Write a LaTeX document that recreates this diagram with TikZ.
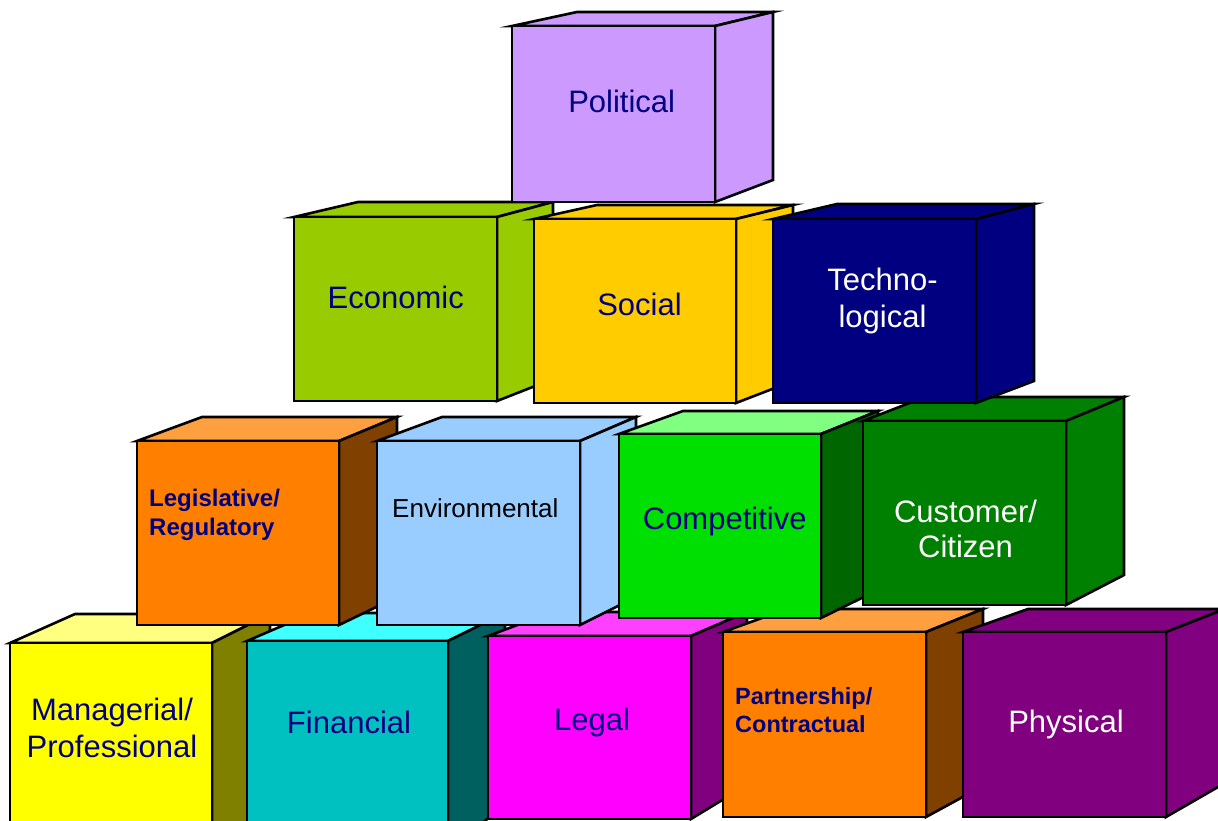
\documentclass[tikz,border=0pt]{standalone}
\usepackage{fontspec}
\setmainfont{Liberation Sans}
\definecolor{navyt}{HTML}{000080}
% political
\definecolor{polF}{HTML}{CC99FF}\definecolor{polT}{HTML}{CC99FF}\definecolor{polS}{HTML}{CC99FF}
% economic
\definecolor{ecoF}{HTML}{99CC00}\definecolor{ecoT}{HTML}{99CC00}\definecolor{ecoS}{HTML}{99CC00}
% social
\definecolor{socF}{HTML}{FFCC00}\definecolor{socT}{HTML}{FFCC00}\definecolor{socS}{HTML}{FFCC00}
% technological
\definecolor{tecF}{HTML}{000080}\definecolor{tecT}{HTML}{000080}\definecolor{tecS}{HTML}{000080}
% legislative
\definecolor{legF}{HTML}{FF8000}\definecolor{legT}{HTML}{FFA040}\definecolor{legS}{HTML}{804000}
% environmental
\definecolor{envF}{HTML}{99CCFF}\definecolor{envT}{HTML}{99CCFF}\definecolor{envS}{HTML}{99CCFF}
% competitive
\definecolor{comF}{HTML}{00E000}\definecolor{comT}{HTML}{80FF80}\definecolor{comS}{HTML}{006600}
% customer
\definecolor{cusF}{HTML}{008000}\definecolor{cusT}{HTML}{008000}\definecolor{cusS}{HTML}{008000}
% managerial
\definecolor{manF}{HTML}{FFFF00}\definecolor{manT}{HTML}{FFFF80}\definecolor{manS}{HTML}{808000}
% financial
\definecolor{finF}{HTML}{00C0C0}\definecolor{finT}{HTML}{40FFFF}\definecolor{finS}{HTML}{006060}
% legal
\definecolor{lglF}{HTML}{FF00FF}\definecolor{lglT}{HTML}{FF40FF}\definecolor{lglS}{HTML}{800080}
% partnership
\definecolor{parF}{HTML}{FF8000}\definecolor{parT}{HTML}{FFA040}\definecolor{parS}{HTML}{804000}
% physical
\definecolor{phyF}{HTML}{800080}\definecolor{phyT}{HTML}{800080}\definecolor{phyS}{HTML}{800080}

% #1 x1, #2 y1, #3 x2, #4 y2 (front face), #5 back-left x, #6 back-right x,
% #7 back top y, #8 back bottom y, #9 colour prefix
\newcommand\cubeshape[9]{%
  \filldraw[cubeline, fill=#9T] (#1,#2) -- (#5,#7) -- (#6,#7) -- (#3,#2) -- cycle;
  \filldraw[cubeline, fill=#9S] (#3,#2) -- (#6,#7) -- (#6,#8) -- (#3,#4) -- cycle;
  \filldraw[cubeline, fill=#9F] (#1,#2) rectangle (#3,#4);
}

\tikzset{
  cubeline/.style={draw=black, line width=2.6pt, line join=miter},
  lbl/.style={inner sep=0pt, text=navyt, font=\fontsize{31}{37}\selectfont, align=center},
  lblw/.style={lbl, text=white},
  lblb/.style={inner sep=0pt, text=navyt, font=\bfseries\fontsize{24}{29}\selectfont, align=left},
}

\begin{document}
\begin{tikzpicture}[x=1pt, y=-1pt]
\useasboundingbox (0,0) rectangle (1218,821);
\clip (0,0) rectangle (1218,821);
\fill[white] (0,0) rectangle (1218,821);

% ---- bottom row ----
\cubeshape{10}{643}{212}{850}{75}{270}{614}{805}{man}
\node[lbl, anchor=center] (managerial) at (112,727.5) {Managerial/\\Professional};

\cubeshape{247}{641}{448}{850}{312}{505}{613}{805}{fin}
\node[lbl, anchor=base] (financial) at (349,733) {Financial};

\cubeshape{488}{636}{691}{819}{552}{747}{612}{785}{lgl}
\node[lbl, anchor=base] (legal) at (592,730) {Legal};

\cubeshape{723}{632}{926}{817}{787}{983}{609}{786}{par}
\node[lblb, anchor=west, font=\bfseries\fontsize{23.5}{28}\selectfont] (partnership) at (735,710.4) {Partnership/\\Contractual};

\cubeshape{963}{632}{1166}{817}{1028}{1225}{609}{783}{phy}
\node[lblw, anchor=base] (physical) at (1066,732) {Physical};

% ---- third row ----
\cubeshape{137}{441}{339}{625}{202}{397}{417}{597}{leg}
\node[lblb, anchor=west] (legislative) at (149,515.3) {Legislative/\\Regulatory};

\cubeshape{377}{441}{580}{625}{442}{636}{417}{597}{env}
\node[inner sep=0pt, text=black, font=\fontsize{26}{31}\selectfont, anchor=base west] (environmental) at (392,517) {Environmental};

\cubeshape{619}{434}{821}{618}{683}{878}{411}{590}{com}
\node[lbl, anchor=base] (competitive) at (724.7,529) {Competitive};

\cubeshape{863}{421}{1066}{605}{925}{1124}{397}{575}{cus}
\node[lblw, anchor=center, font=\fontsize{31}{35}\selectfont] (customer) at (965.5,528.5) {Customer/\\Citizen};

% ---- second row ----
\cubeshape{294}{217}{497}{401}{358}{553}{202}{379}{eco}
\node[lbl, anchor=base] (economic) at (395.8,308) {Economic};

\cubeshape{534}{219}{736}{403}{597}{793}{205}{381}{soc}
\node[lbl, anchor=base] (social) at (639.5,315) {Social};

\cubeshape{773}{219}{976}{403}{837}{1034}{204}{381}{tec}
\node[lblw, anchor=center] (technological) at (882.5,300.5) {Techno-\\logical};

% ---- top ----
\cubeshape{512}{26}{715}{202}{577}{773}{12}{180}{pol}
\node[lbl, anchor=base] (political) at (621.7,113) {Political};
\end{tikzpicture}
\end{document}
